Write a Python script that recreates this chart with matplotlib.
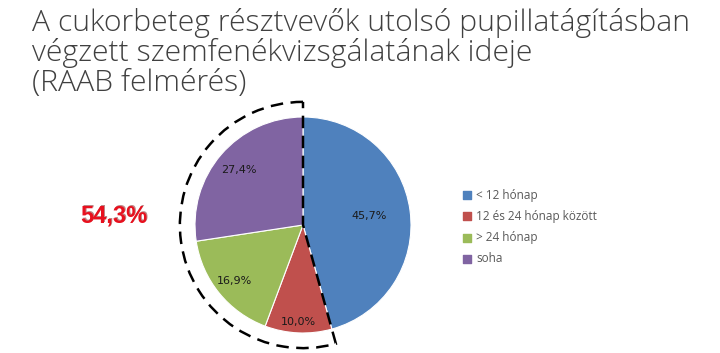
import matplotlib.pyplot as plt
from matplotlib.patches import Wedge
import numpy as np

title_lines = ['A cukorbeteg résztvevők utolsó pupillatágításban',
               'végzett szemfenékvizsgálatának ideje',
               '(RAAB felmérés)']
categories = ['< 12 hónap', '12 és 24 hónap között', '> 24 hónap', 'soha']
shares = [45.7, 10.0, 16.9, 27.4]
highlight = '54,3%'

colors = ['#4F81BD', '#C0504D', '#9BBB59', '#8064A2']
label_dist = [0.62, 0.90, 0.82, 0.78]

W, H = 720, 353
fig = plt.figure(figsize=(7.2, 3.53), dpi=100)
ax = fig.add_axes([0, 0, 1, 1])

# pie in pixel coordinates (y up)
cx, cy, R = 303, H - 225, 108
wedges, _ = ax.pie(shares, colors=colors, startangle=90, counterclock=False,
                   center=(cx, cy), radius=R,
                   wedgeprops=dict(linewidth=0.8, edgecolor='white'))

for w, s, d in zip(wedges, shares, label_dist):
    ang = np.deg2rad((w.theta1 + w.theta2) / 2)
    ax.text(cx + d * R * np.cos(ang), cy + d * R * np.sin(ang),
            f'{s:.1f}'.replace('.', ',') + '%', ha='center', va='center',
            fontsize=8, color='#1a1a1a', family='DejaVu Sans')

# dashed outline around the share of the non-blue part
blue_end = wedges[0].theta1
outline = Wedge((cx, cy), R * 1.14, 90, blue_end + 360, fill=False,
                linestyle=(0, (5, 3)), linewidth=1.8, edgecolor='black')
ax.add_patch(outline)

ax.set_xlim(0, W)
ax.set_ylim(0, H)
ax.set_aspect('equal')
ax.axis('off')

# title
for i, line in enumerate(title_lines):
    ax.text(32, H - 23 - i * 30, line, fontsize=21.7, color='#404040',
            family='Open Sans', fontweight=300, va='center', ha='left')

# highlighted total
ax.text(115, H - 215, highlight, fontsize=17, fontweight='bold', color='#7a1010',
        family='Liberation Sans', ha='center', va='center', alpha=0.5)
ax.text(114, H - 216, highlight, fontsize=17, fontweight='bold', color='#E8101E',
        family='Liberation Sans', ha='center', va='center')

# legend
for i, (c, lab) in enumerate(zip(colors, categories)):
    y = H - 195 - i * 21.3
    ax.scatter([467], [y], marker='s', s=30, color=c)
    ax.text(476, y, lab, fontsize=8.5, color='#595959', family='Open Sans',
            va='center', ha='left')

fig.savefig('out.png', dpi=100, facecolor='white')
